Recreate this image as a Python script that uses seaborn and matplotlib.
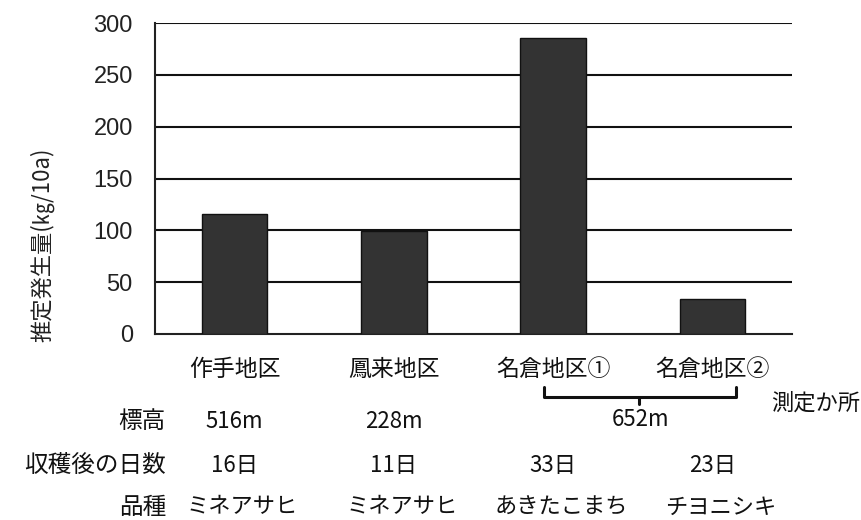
import matplotlib
matplotlib.use("Agg")
import matplotlib.pyplot as plt
import matplotlib.transforms as mtransforms
import seaborn as sns
import pandas as pd

# ---- data ----
categories = ["作手地区", "鳳来地区", "名倉地区①", "名倉地区②"]
values = [116, 99, 286, 34]
elevation = ["516m", "228m"]
elevation_shared = "652m"
days = ["16日", "11日", "33日", "23日"]
varieties = ["ミネアサヒ", "ミネアサヒ", "あきたこまち", "チヨニシキ"]
row_labels = ["標高", "収穫後の日数", "品種"]
ylabel = "推定発生量(㎏/10a)"
note = "測定か所"
yticks = [0, 50, 100, 150, 200, 250, 300]

sns.set_theme(style="white")
plt.rcParams['font.family'] = ['Noto Sans CJK JP', 'DejaVu Sans']

df = pd.DataFrame({"cat": categories, "val": values})

fig = plt.figure(figsize=(8.62, 5.20), dpi=100)
ax = fig.add_axes([155/862, 1-334/520, (792-155)/862, (334-23)/520])

sns.barplot(data=df, x="cat", y="val", color="#333333", edgecolor="#111111",
            linewidth=1.0, width=0.41, saturation=1, ax=ax, zorder=3)

ax.set_xlim(-0.5, 3.5)
ax.set_ylim(0, 300)
ax.set_yticks(yticks)
ax.set_yticklabels([str(t) for t in yticks], family=['Liberation Sans', 'DejaVu Sans'],
                   fontsize=17, color="#222222")
for t in yticks[1:]:
    ax.axhline(t, color="#111111", lw=1.5, zorder=1)

ax.tick_params(axis='y', length=0, pad=16)
ax.set_xticks(range(len(categories)))
ax.set_xticklabels(categories, fontsize=16.5, color="#111111")
ax.tick_params(axis='x', which='major', length=0, pad=17)
ax.set_xticks([-0.5, 0.5, 1.5, 2.5, 3.5], minor=True)
ax.tick_params(axis='x', which='minor', direction='in', length=6, width=1.5, color="#222222")
ax.set_xlabel("")

for s in ["top", "right"]:
    ax.spines[s].set_visible(False)
for s in ["left", "bottom"]:
    ax.spines[s].set_color("#222222")
    ax.spines[s].set_linewidth(1.5)

ax.set_ylabel(ylabel, fontsize=16, color="#222222")
ax.yaxis.set_label_coords(-0.158, 0.286)

# ---- table below ----
trans = mtransforms.blended_transform_factory(ax.transData, fig.transFigure)
def fy(px):
    return 1 - px / 520

row_y = [422, 465, 507]
for lab, y in zip(row_labels, row_y):
    fig.text(166/862, fy(y), lab, ha="right", va="center", fontsize=17, color="#111111")

for i, e in enumerate(elevation):
    ax.text(i, fy(422), e, transform=trans, ha="center", va="center", fontsize=16, color="#111111")
ax.text(2.55, fy(420), elevation_shared, transform=trans, ha="center", va="center",
        fontsize=16, color="#111111")
for i, d in enumerate(days):
    ax.text(i, fy(465), d, transform=trans, ha="center", va="center", fontsize=16, color="#111111")
for i, v in enumerate(varieties):
    ax.text(i + 0.05, fy(507), v, transform=trans, ha="center", va="center", fontsize=16, color="#111111")

# bracket joining 名倉地区① and ②
bx0, bx1, bxm = 1.94, 3.15, 2.54
ax.plot([bx0, bx0, bx1, bx1], [fy(387), fy(397), fy(397), fy(387)], transform=trans,
        color="#111111", lw=2.2, clip_on=False, solid_joinstyle="round")
ax.plot([bxm, bxm], [fy(397), fy(404)], transform=trans, color="#111111", lw=2.2, clip_on=False)

fig.text(771/862, fy(403), note, ha="left", va="center", fontsize=16, color="#111111")

fig.savefig("out.png", dpi=100)
